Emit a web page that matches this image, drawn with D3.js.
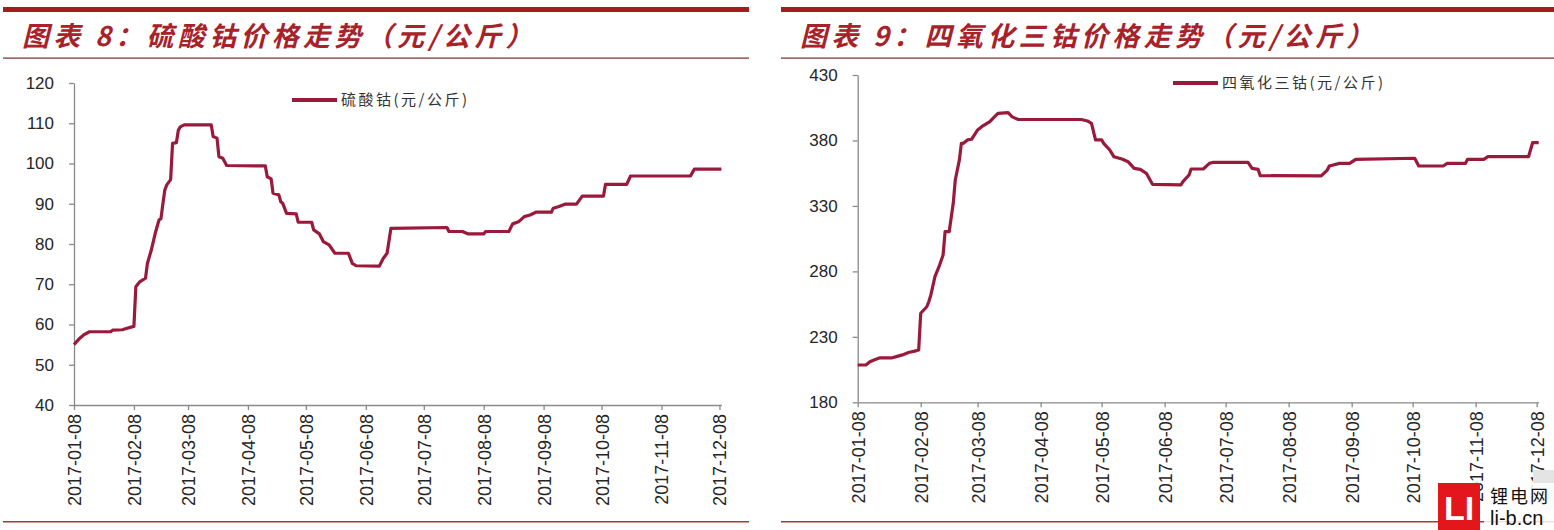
<!DOCTYPE html>
<html>
<head>
<meta charset="utf-8">
<script src="https://cdn.jsdelivr.net/npm/d3@7"></script>
<style>
  html, body { margin: 0; padding: 0; background: #ffffff; }
  svg { display: block; }
</style>
</head>
<body>
<svg id="chart" width="1554" height="530"></svg>
<script>
// ---------- data ----------
const xTickLabels = ["2017-01-08","2017-02-08","2017-03-08","2017-04-08","2017-05-08","2017-06-08",
                     "2017-07-08","2017-08-08","2017-09-08","2017-10-08","2017-11-08","2017-12-08"];
const yTicksLeft = [40, 50, 60, 70, 80, 90, 100, 110, 120];
const yTicksRight = [180, 230, 280, 330, 380, 430];

const titleLeft = "图表 8：硫酸钴价格走势（元/公斤）";
const titleRight = "图表 9：四氧化三钴价格走势（元/公斤）";
const seriesNameLeft = "硫酸钴(元/公斤)";
const seriesNameRight = "四氧化三钴(元/公斤)";

const sulfateDates = ["2017-01-08","2017-01-11","2017-01-13","2017-01-16","2017-01-27","2017-01-28","2017-02-02","2017-02-04",
  "2017-02-07","2017-02-08","2017-02-09","2017-02-11","2017-02-14","2017-02-15","2017-02-17","2017-02-19","2017-02-21",
  "2017-02-22","2017-02-23","2017-02-24","2017-02-25","2017-02-27","2017-02-28","2017-03-02","2017-03-03","2017-03-04",
  "2017-03-06","2017-03-20","2017-03-21","2017-03-23","2017-03-24","2017-03-26","2017-03-28","2017-04-17","2017-04-18",
  "2017-04-20","2017-04-21","2017-04-24","2017-04-25","2017-04-26","2017-04-28","2017-05-03","2017-05-04","2017-05-11",
  "2017-05-12","2017-05-15","2017-05-17","2017-05-20","2017-05-23","2017-05-30","2017-06-01","2017-06-03","2017-06-15",
  "2017-06-17","2017-06-19","2017-06-21","2017-07-20","2017-07-21","2017-07-28","2017-07-31","2017-08-08","2017-08-09",
  "2017-08-21","2017-08-23","2017-08-26","2017-08-29","2017-09-01","2017-09-04","2017-09-12","2017-09-13","2017-09-16",
  "2017-09-19","2017-09-25","2017-09-28","2017-10-09","2017-10-10","2017-10-21","2017-10-23","2017-11-23","2017-11-25",
  "2017-12-09"];
const sulfateValues = [55, 56.6, 57.4, 58.2, 58.2, 58.6, 58.7, 59.0,
  59.4, 59.5, 69.4, 70.6, 71.5, 75.2, 78.5, 82.6, 86.0,
  86.3, 90.0, 93.4, 94.7, 96.0, 105.0, 105.2, 108.3, 109.1,
  109.6, 109.6, 106.7, 106.3, 101.7, 101.3, 99.5, 99.4, 96.7,
  96.2, 92.6, 92.2, 90.5, 90.1, 87.6, 87.5, 85.4, 85.4,
  83.5, 82.5, 80.6, 79.8, 77.7, 77.7, 75.2, 74.6, 74.5,
  76.4, 77.7, 83.9, 84.1, 83.1, 83.1, 82.5, 82.5, 83.1,
  83.1, 85.0, 85.5, 86.8, 87.2, 87.9, 87.9, 88.9, 89.3,
  89.9, 89.9, 91.9, 91.9, 94.8, 94.8, 96.9, 96.9, 98.6,
  98.6];

const oxideDates = ["2017-01-08","2017-01-12","2017-01-14","2017-01-16","2017-01-19","2017-01-25","2017-01-27","2017-01-30",
  "2017-02-02","2017-02-06","2017-02-07","2017-02-08","2017-02-11","2017-02-12","2017-02-13","2017-02-15","2017-02-17",
  "2017-02-19","2017-02-20","2017-02-22","2017-02-24","2017-02-25","2017-02-27","2017-02-28","2017-03-01","2017-03-03",
  "2017-03-05","2017-03-08","2017-03-10","2017-03-14","2017-03-16","2017-03-18","2017-03-23","2017-03-25","2017-03-28",
  "2017-04-28","2017-05-01","2017-05-03","2017-05-05","2017-05-08","2017-05-09","2017-05-12","2017-05-14","2017-05-18",
  "2017-05-21","2017-05-24","2017-05-27","2017-05-30","2017-06-02","2017-06-16","2017-06-17","2017-06-20","2017-06-21",
  "2017-06-27","2017-06-30","2017-07-02","2017-07-19","2017-07-21","2017-07-24","2017-07-25","2017-08-24","2017-08-27",
  "2017-08-28","2017-09-02","2017-09-07","2017-09-10","2017-10-09","2017-10-11","2017-10-23","2017-10-25","2017-11-03",
  "2017-11-04","2017-11-12","2017-11-14","2017-12-04","2017-12-06","2017-12-09"];
const oxideValues = [208.5, 208.5, 211, 212.3, 214, 214, 214.9, 216.2,
  218, 219.5, 220, 248, 253, 257, 262, 276, 283.6,
  292.5, 310.3, 310.3, 332, 349.8, 365, 377.8, 377.8, 380.4,
  380.9, 388, 390.5, 394.4, 397.7, 400.7, 401.2, 398, 396,
  396, 394.9, 393, 380.4, 380.4, 377.8, 372.7, 367.6, 365.8,
  363.8, 358.7, 357.9, 354.9, 346.5, 346, 348.5, 353.6, 358.2,
  358.2, 362.5, 363.3, 363.3, 358.7, 357.9, 353.1, 352.9, 357.4,
  360.5, 362.5, 362.5, 365.6, 366.4, 360.5, 360.5, 362.5, 362.5,
  365.6, 365.6, 367.6, 367.6, 378.3, 378.3];

// ---------- drawing ----------
const parse = d3.timeParse("%Y-%m-%d");
const svg = d3.select("#chart");
const lineColor = "#9a1a3c";
const titleColor = "#a8222a";
const barColor = "#a51c1f";
const axisColor = "#8a8a8a";

function panel(opt) {
  const g = svg.append("g");
  g.append("rect").attr("x", opt.left).attr("y", 7).attr("width", opt.right - opt.left).attr("height", 5).attr("fill", barColor);
  g.append("text").attr("x", opt.titleX).attr("y", 46)
    .attr("font-family", "'Noto Sans CJK SC', sans-serif").attr("font-size", 27).attr("font-weight", 700)
    .attr("font-style", "italic").attr("letter-spacing", "4.3px").attr("fill", titleColor).text(opt.title);
  g.append("rect").attr("x", opt.left).attr("y", 57.5).attr("width", opt.right - opt.left).attr("height", 1.2).attr("fill", "#7a2a2a");
  g.append("rect").attr("x", opt.left).attr("y", 521).attr("width", opt.right - opt.left).attr("height", 1.5).attr("fill", "#a33a3a");

  const x = d3.scaleTime().domain([parse("2017-01-08"), parse("2017-12-09")]).range(opt.xRange);
  const y = d3.scaleLinear().domain(opt.yDomain).range(opt.yRange);

  const xAxis = d3.axisBottom(x).tickValues(xTickLabels.map(parse)).tickFormat(d3.timeFormat("%Y-%m-%d"))
    .tickSize(5).tickSizeOuter(0);
  const gx = g.append("g").attr("transform", `translate(0,${opt.yRange[0]})`).call(xAxis);
  gx.selectAll("text").attr("transform", "rotate(-90)").attr("text-anchor", "end")
    .attr("x", -9).attr("y", 0).attr("dy", "0.36em")
    .attr("font-family", "'Liberation Sans', Arial, sans-serif").attr("font-size", 18).attr("fill", "#262626");

  const yAxis = d3.axisLeft(y).tickValues(opt.yTicks).tickSize(5).tickSizeOuter(0).tickPadding(15);
  const gy = g.append("g").attr("transform", `translate(${opt.xRange[0]},0)`).call(yAxis);
  gy.selectAll("text").attr("font-family", "'Liberation Sans', Arial, sans-serif").attr("font-size", 17).attr("fill", "#262626");

  [gx, gy].forEach(a => {
    a.select(".domain").attr("stroke", axisColor).attr("stroke-width", 1.3);
    a.selectAll(".tick line").attr("stroke", axisColor).attr("stroke-width", 1.3);
  });

  const data = opt.dates.map((d, i) => ({ date: parse(d), value: opt.values[i] }));
  const line = d3.line().x(d => x(d.date)).y(d => y(d.value)).curve(d3.curveLinear);
  g.append("path").datum(data).attr("d", line).attr("fill", "none")
    .attr("stroke", lineColor).attr("stroke-width", 3.2).attr("stroke-linejoin", "round");

  g.append("line").attr("x1", opt.legendX).attr("x2", opt.legendX + 45)
    .attr("y1", opt.legendY).attr("y2", opt.legendY).attr("stroke", lineColor).attr("stroke-width", 4);
  g.append("text").attr("x", opt.legendX + 49).attr("y", opt.legendY).attr("dy", "0.35em")
    .attr("font-family", "'Noto Sans CJK SC', sans-serif").attr("font-size", 15).attr("letter-spacing", "2.5px")
    .attr("fill", "#333").text(opt.seriesName);
}

panel({
  left: 3, right: 749, titleX: 22, title: titleLeft,
  xRange: [74, 721.4], yDomain: [40, 120], yRange: [405, 83], yTicks: yTicksLeft,
  dates: sulfateDates, values: sulfateValues,
  legendX: 292, legendY: 100, seriesName: seriesNameLeft
});
panel({
  left: 781, right: 1554, titleX: 800, title: titleRight,
  xRange: [857.7, 1538.7], yDomain: [180, 430], yRange: [402.3, 75], yTicks: yTicksRight,
  dates: oxideDates, values: oxideValues,
  legendX: 1173, legendY: 83, seriesName: seriesNameRight
});

// watermark logo
const logo = svg.append("g");
logo.append("rect").attr("x", 1533).attr("y", 470).attr("width", 21).attr("height", 40).attr("fill", "#e4e4e4");
logo.append("rect").attr("x", 1438).attr("y", 483).attr("width", 42).attr("height", 47).attr("fill", "#e3161b");
logo.append("text").attr("x", 1459).attr("y", 520).attr("text-anchor", "middle")
  .attr("font-family", "'Liberation Sans', Arial, sans-serif").attr("font-weight", 700).attr("font-size", 34)
  .attr("fill", "#ffffff").text("LI");
logo.append("rect").attr("x", 1484).attr("y", 483).attr("width", 70).attr("height", 47).attr("fill", "#ffffff").attr("opacity", 0.85);
logo.append("text").attr("x", 1490).attr("y", 503)
  .attr("font-family", "'Noto Sans CJK SC', sans-serif").attr("font-size", 18).attr("letter-spacing", "2px")
  .attr("fill", "#111").text("锂电网");
logo.append("text").attr("x", 1490).attr("y", 525)
  .attr("font-family", "'Liberation Sans', Arial, sans-serif").attr("font-size", 20)
  .attr("fill", "#111").text("li-b.cn");
</script>
</body>
</html>
